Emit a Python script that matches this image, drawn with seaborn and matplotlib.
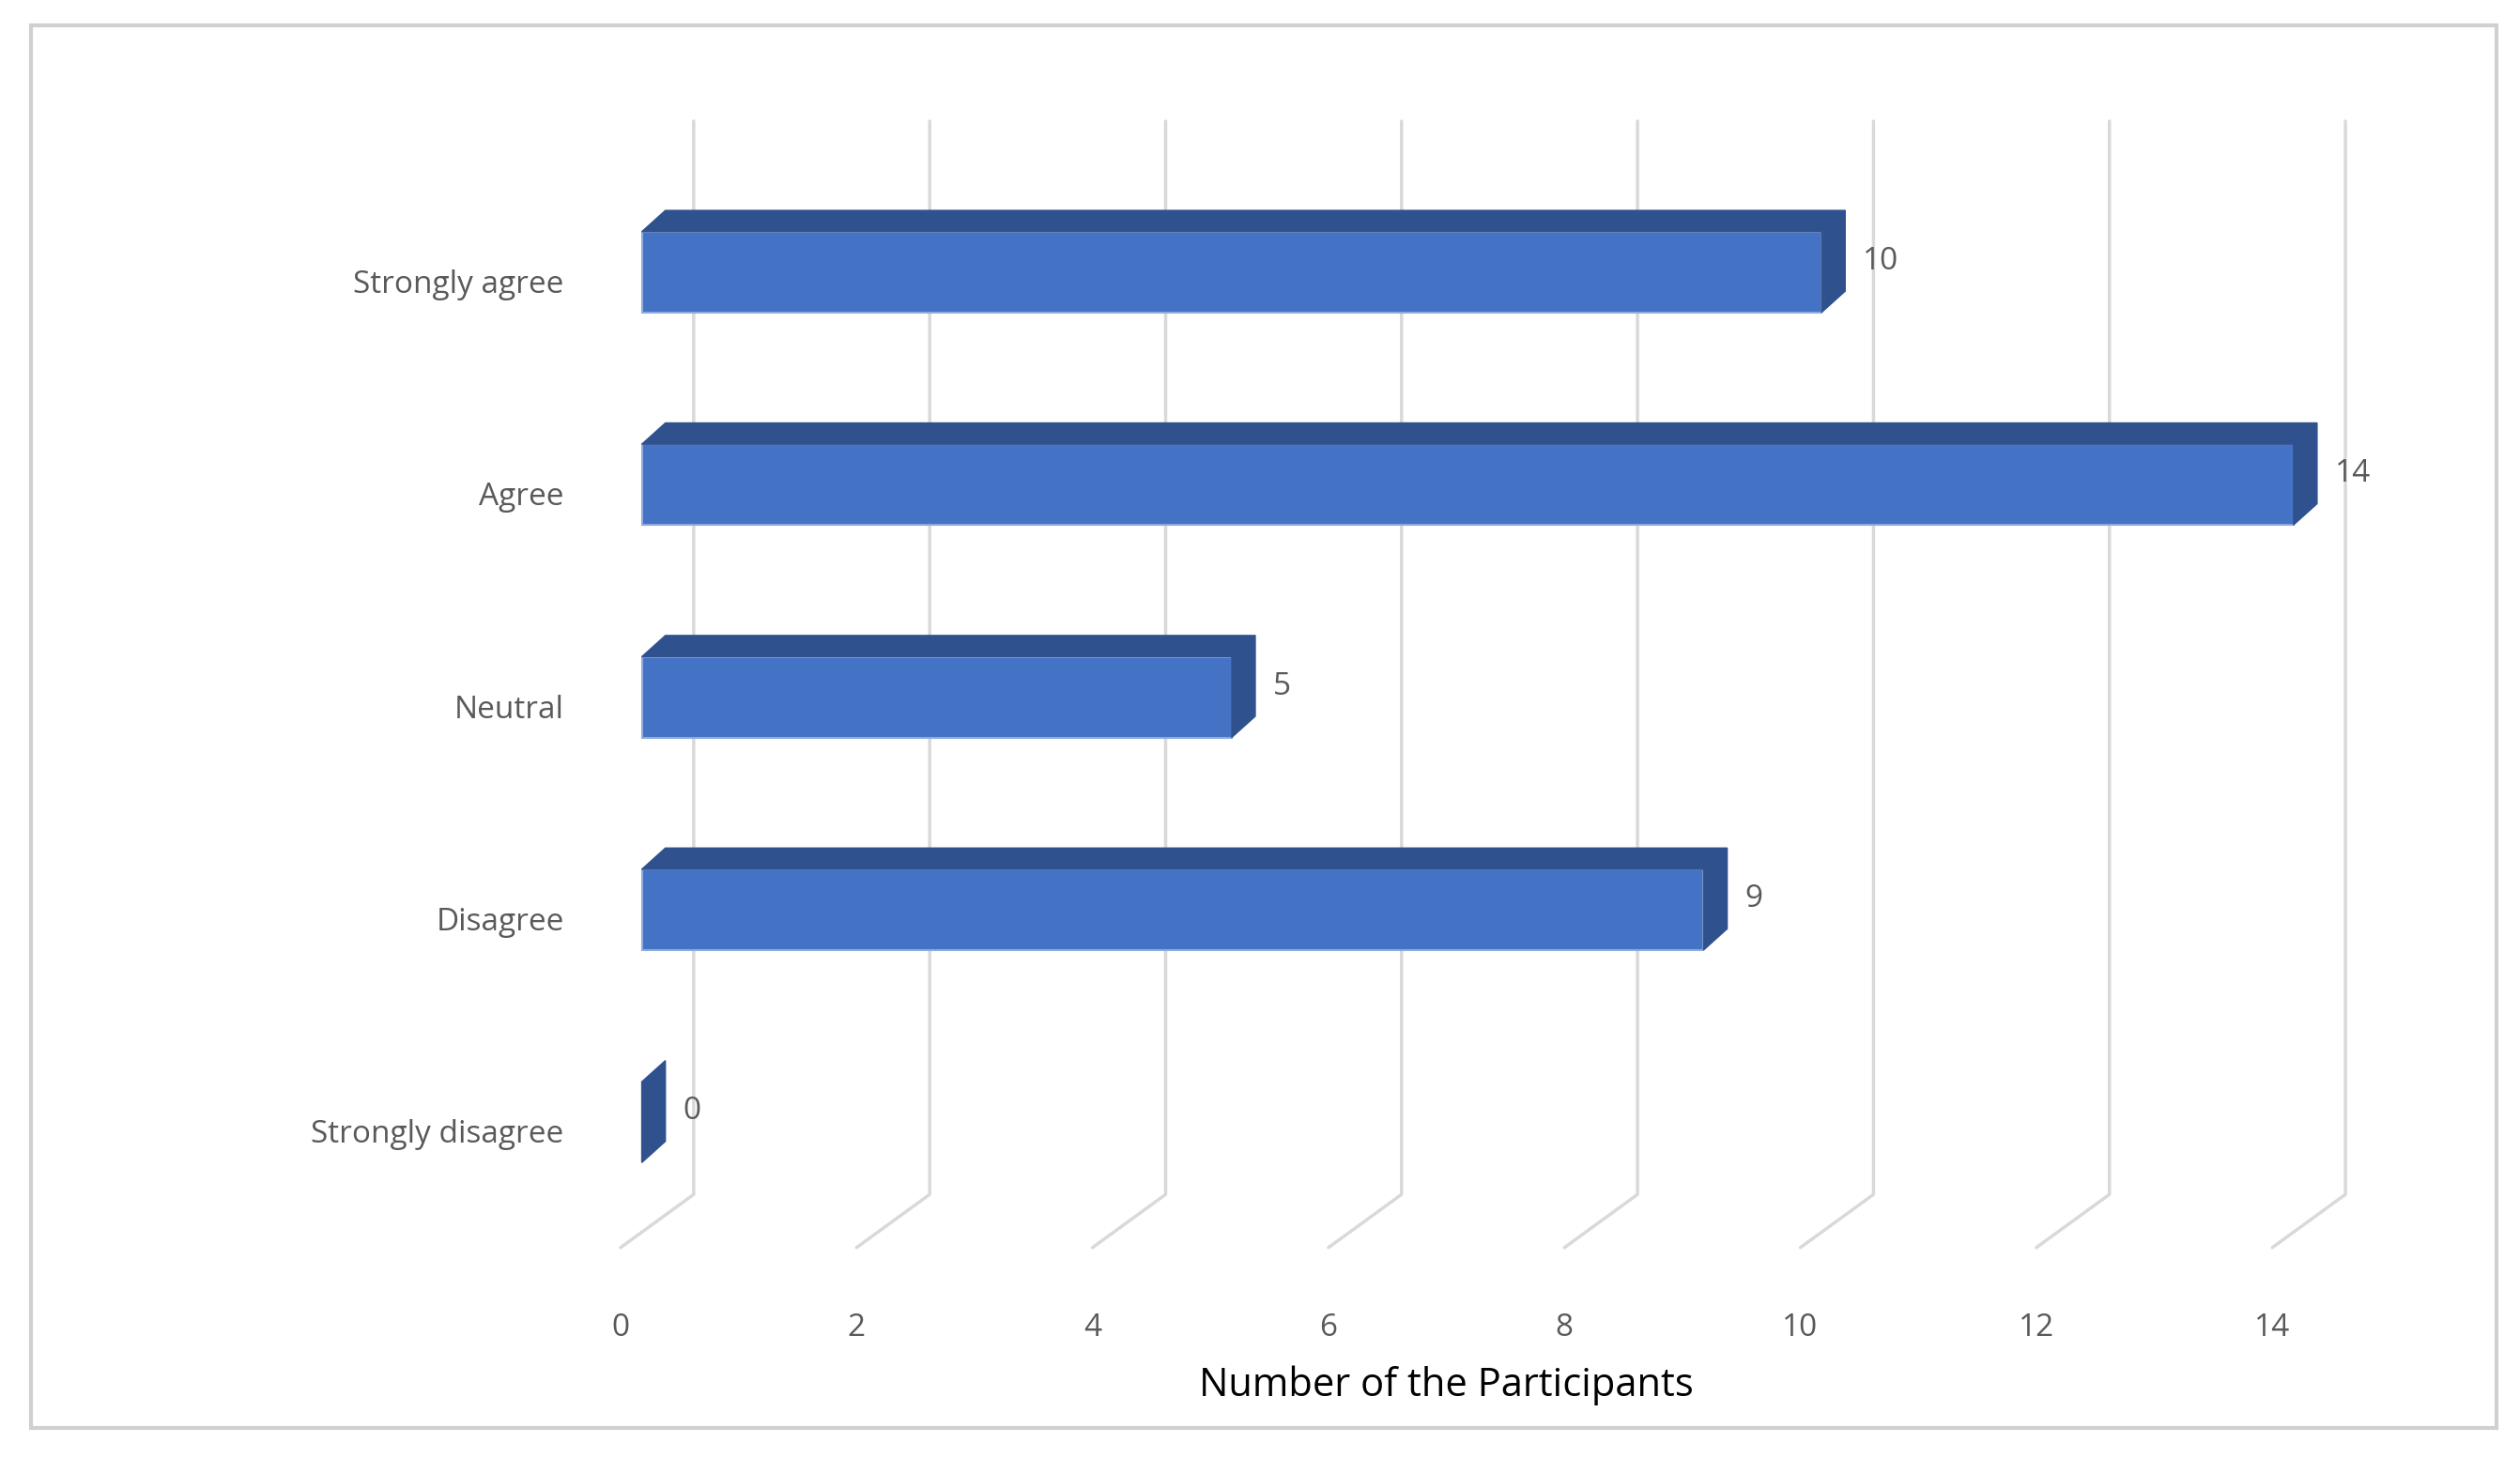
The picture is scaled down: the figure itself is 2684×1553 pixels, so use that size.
import matplotlib.pyplot as plt
import seaborn as sns
from matplotlib.patches import Polygon, Rectangle

categories = ["Strongly disagree", "Disagree", "Neutral", "Agree", "Strongly agree"]
counts = [0, 9, 5, 14, 10]
ticks = [0, 2, 4, 6, 8, 10, 12, 14]

sns.set_theme(style="white")
plt.rcParams['font.family'] = ['Open Sans', 'DejaVu Sans']

front = "#4472C4"
dark = "#2F528F"
grey_txt = "#595959"
grid_c = "#D9D9D9"

fig = plt.figure(figsize=(26.84, 15.53), dpi=100)
ax = fig.add_axes([0, 0, 1, 1])
ax.set_xlim(-5.26, 16.1)
ax.set_ylim(-1.58, 5.28)
ax.axis("off")

# outer frame
ax.add_patch(Rectangle((-5.0, -1.44), 20.9, 6.6, fill=False, ec="#D0D0D0", lw=3))

# 3D floor grid
dx, dy = 0.62, 0.25
for t in ticks:
    ax.plot([t + dx, t + dx, t], [4.71, -0.34, -0.59], color=grid_c, lw=2.5, zorder=1)
    ax.text(t, -0.97, str(t), ha="center", va="center", fontsize=24, color=grey_txt)

# bars with depth
left, h, ox, oy = 0.18, 0.38, 0.2, 0.1
y_pos = list(range(len(categories)))
ax.barh(y_pos, counts, left=left, height=h, color=front, ec="#8FAADC", lw=1.5, zorder=3)
for y, v in zip(y_pos, counts):
    r = left + v
    top = [(left, y + h / 2), (r, y + h / 2), (r + ox, y + h / 2 + oy), (left + ox, y + h / 2 + oy)]
    side = [(r, y - h / 2), (r, y + h / 2), (r + ox, y + h / 2 + oy), (r + ox, y - h / 2 + oy)]
    if v > 0:
        ax.add_patch(Polygon(top, closed=True, fc=dark, ec=dark, zorder=4))
    ax.add_patch(Polygon(side, closed=True, fc=dark, ec=dark, zorder=4))
    ax.text(r + 0.35, y + 0.05, str(v), ha="left", va="center", fontsize=24, color=grey_txt, zorder=5)
    ax.text(-0.48, y - 0.06, categories[y], ha="right", va="center", fontsize=24, color=grey_txt)

ax.text(7.0, -1.24, "Number of the Participants", ha="center", va="center", fontsize=30, color="black")

fig.savefig("out.png", dpi=100)
